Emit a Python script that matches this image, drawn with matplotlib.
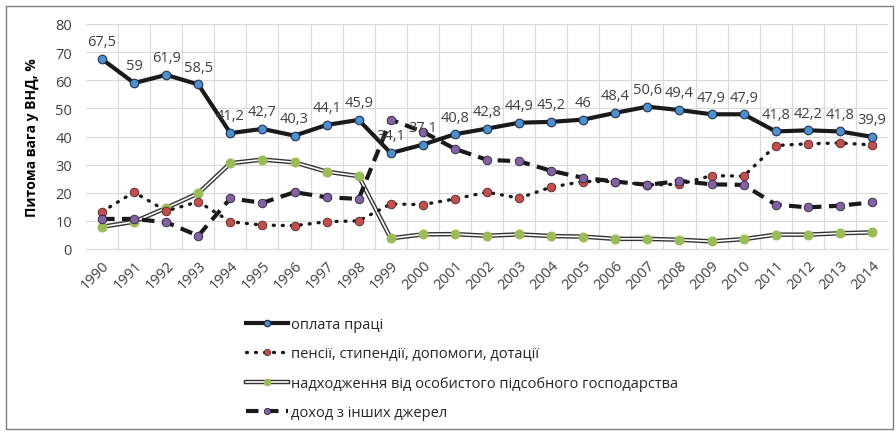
import numpy as np
import matplotlib.pyplot as plt
from matplotlib.lines import Line2D
from matplotlib.legend_handler import HandlerTuple
from matplotlib.patches import Rectangle

plt.rcParams['font.family'] = ['Open Sans', 'DejaVu Sans']

years = [str(y) for y in range(1990, 2015)]
wages = [67.5, 59, 61.9, 58.5, 41.2, 42.7, 40.3, 44.1, 45.9, 34.1, 37.1, 40.8, 42.8,
         44.9, 45.2, 46, 48.4, 50.6, 49.4, 47.9, 47.9, 41.8, 42.2, 41.8, 39.9]
pensions = [13.3, 20.2, 13.5, 16.8, 9.7, 8.5, 8.3, 9.7, 10.0, 16.0, 15.8, 17.8, 20.2,
            18.1, 22.0, 24.0, 24.0, 22.8, 23.0, 26.1, 25.9, 36.8, 37.4, 37.7, 37.0]
household = [7.9, 9.7, 14.6, 19.8, 30.5, 31.8, 30.8, 27.5, 25.9, 3.8, 5.2, 5.3, 4.7,
             5.2, 4.6, 4.4, 3.6, 3.6, 3.3, 2.7, 3.5, 5.1, 5.1, 5.6, 5.9]
other = [10.7, 10.7, 9.5, 4.7, 18.0, 16.4, 20.2, 18.4, 17.8, 46.0, 41.7, 35.6, 31.7,
         31.2, 27.8, 25.3, 24.0, 22.8, 24.2, 23.0, 22.8, 15.8, 14.8, 15.4, 16.6]
names = ['оплата праці', 'пенсії, стипендії, допомоги, дотації',
         'надходження від особистого підсобного господарства', 'доход з інших джерел']

x = np.arange(len(years))
fig = plt.figure(figsize=(8.96, 4.35), dpi=100)
ax = fig.add_axes([86 / 896, 1 - 250 / 435, 802 / 896, 225 / 435])

ms = 6.2
dot_style = dict(color='#1a1a1a', lw=2.4, ls=(0, (0.3, 2.4)), dash_capstyle='round')
dash_style = dict(color='#1a1a1a', lw=3, ls=(0, (3, 1.8)))

# double line for household
ax.plot(x, household, color='#333333', lw=3.2, zorder=2)
ax.plot(x, household, color='white', lw=1.2, zorder=2.1)
ax.plot(x, household, ls='none', marker='o', ms=ms, mfc='#9BBB59', mec='#9BBB59', zorder=2.2)

ax.plot(x, pensions, marker='o', ms=ms, mfc='#C0504D', mec='#5a2220', mew=0.6,
        zorder=3, **dot_style)
ax.plot(x, other, marker='o', ms=ms, mfc='#8064A2', mec='#2e2240', mew=0.6,
        zorder=4, **dash_style)
ax.plot(x, wages, color='#1a1a1a', lw=3, marker='o', ms=ms,
        mfc='#4F8FD0', mec='#1f3550', mew=0.8, zorder=5)

for xi, v in zip(x, wages):
    ax.annotate(f'{v:g}'.replace('.', ','), (xi, v), xytext=(0, 7), textcoords='offset points',
                ha='center', va='bottom', fontsize=10.5, color='#404040', zorder=6)

ax.set_xlim(-0.5, len(years) - 0.5)
ax.set_ylim(0, 80)
ax.set_yticks(range(0, 81, 10))
ax.set_xticks(x)
ax.set_xticklabels(years, rotation=45, ha='right', rotation_mode='anchor', fontsize=10.5,
                   color='#404040')
ax.set_xticks(x[:-1] + 0.5, minor=True)
ax.tick_params(axis='y', labelsize=10.5, labelcolor='#404040', length=0, pad=10)
ax.tick_params(axis='x', which='both', length=0, pad=6)
ax.grid(axis='y', color='#d9d9d9', lw=0.8)
ax.grid(axis='x', which='minor', color='#d9d9d9', lw=0.8)
ax.set_axisbelow(True)
for s in ['top', 'right', 'left']:
    ax.spines[s].set_visible(False)
ax.spines['bottom'].set_color('#d9d9d9')
ax.set_ylabel('Питома вага у ВНД, %', fontsize=10, fontweight='bold', labelpad=12)

lms = 4.5
h1 = Line2D([], [], color='#1a1a1a', lw=3, marker='o', ms=lms, mfc='#4F8FD0', mec='#1f3550')
h2 = Line2D([], [], marker='o', ms=lms, mfc='#C0504D', mec='#5a2220', mew=0.6, **dot_style)
h3a = Line2D([], [], color='#333333', lw=3.2)
h3b = Line2D([], [], color='white', lw=1.2, marker='o', ms=lms, mfc='#9BBB59', mec='#9BBB59')
h4 = Line2D([], [], marker='o', ms=lms, mfc='#8064A2', mec='#2e2240', mew=0.6, **dash_style)
fig.legend([h1, h2, (h3a, h3b), h4], names, loc='upper left',
           bbox_to_anchor=(233 / 896, 1 - 305 / 435), frameon=False, fontsize=10.5,
           handlelength=2.9, handletextpad=0.15, labelspacing=0.98,
           handler_map={tuple: HandlerTuple(ndivide=1, pad=0)}, labelcolor='#262626')

fig.patches.append(Rectangle((6 / 896, 5 / 435), 887 / 896, 423 / 435, transform=fig.transFigure,
                             fill=False, edgecolor='#7f7f7f', lw=1))

fig.savefig('out.png', dpi=100)
